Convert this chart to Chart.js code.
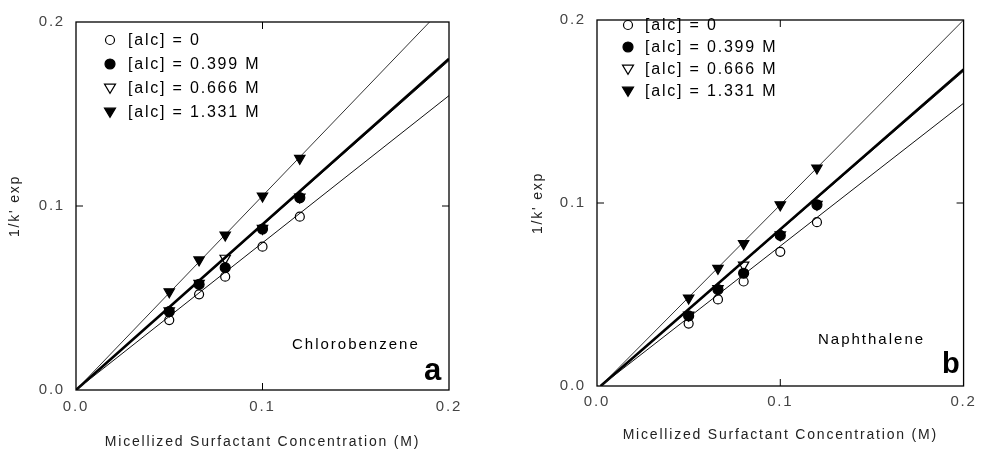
<!DOCTYPE html>
<html>
<head>
<meta charset="utf-8">
<script src="https://cdn.jsdelivr.net/npm/chart.js@4.4.1/dist/chart.umd.min.js"></script>
<style>
  html, body { margin: 0; padding: 0; background: #fff; }
  #wrap { position: relative; width: 981px; height: 452px; }
  canvas { position: absolute; top: 0; }
  #panelA { left: 0; }
  #panelB { left: 490px; }
</style>
</head>
<body>
<div id="wrap">
  <canvas id="panelA" width="490" height="452"></canvas>
  <canvas id="panelB" width="491" height="452"></canvas>
</div>
<script>
// micellized surfactant concentration (M)
const conc = [0.05, 0.066, 0.08, 0.1, 0.12]
const legendLabels = ["[alc] = 0", "[alc] = 0.399 M", "[alc] = 0.666 M", "[alc] = 1.331 M"]
const tickValues = [0, 0.1, 0.2]

// panel a - chlorobenzene, 1/k' exp
const chloroAlc0 = [0.038, 0.052, 0.0616, 0.0779, 0.0942]
const chloroAlc399 = [0.0426, 0.0574, 0.0665, 0.0875, 0.1045]
const chloroAlc666 = [0.0430, 0.0580, 0.0716, 0.0878, 0.1048]
const chloroAlc1331 = [0.0534, 0.0707, 0.0842, 0.1054, 0.1259]
// fitted lines, [start, end]
const chloroFitX = [0, 0.2]
const chloroFit0 = [0, 0.160]
const chloroFit399 = [0, 0.180]
const chloroFit666 = [0, 0.179]
const chloroFit1331 = [0, 0.211]

// panel b - naphthalene
const naphAlc0 = [0.0341, 0.0473, 0.0571, 0.0733, 0.0895]
const naphAlc399 = [0.0383, 0.0527, 0.0616, 0.0823, 0.099]
const naphAlc666 = [0.0388, 0.0532, 0.0661, 0.0826, 0.0993]
const naphAlc1331 = [0.0481, 0.0643, 0.0778, 0.099, 0.1191]
const naphFitX = [0.002, 0.2]
const naphFit0 = [0, 0.1545]
const naphFit399 = [0, 0.173]
const naphFit666 = [0, 0.172]
const naphFit1331 = [0, 0.2]

const FONT = "'Liberation Sans', Arial, Helvetica, sans-serif"
const SPACING = "1.8px"

const pts = (xs, ys) => xs.map((x, i) => ({ x, y: ys[i] }))

function markerStyle(kind) {
  const filled = kind === "filledCircle" || kind === "filledTri"
  const tri = kind === "openTri" || kind === "filledTri"
  return { filled, tri }
}

function drawMarker(ctx, kind, x, y) {
  const { filled, tri } = markerStyle(kind)
  ctx.save()
  ctx.lineWidth = 1.2
  ctx.strokeStyle = "#000"
  ctx.fillStyle = "#000"
  ctx.beginPath()
  if (tri) {
    const r = 5.5
    ctx.moveTo(x - r, y - r * 0.7)
    ctx.lineTo(x + r, y - r * 0.7)
    ctx.lineTo(x, y + r * 0.95)
    ctx.closePath()
  } else {
    ctx.arc(x, y, filled ? 5 : 4.5, 0, Math.PI * 2)
  }
  if (filled) ctx.fill()
  ctx.stroke()
  ctx.restore()
}

const kinds = ["openCircle", "filledCircle", "openTri", "filledTri"]

function scatterSet(kind, data, order) {
  const { filled, tri } = markerStyle(kind)
  return {
    data,
    order,
    showLine: false,
    pointStyle: tri ? "triangle" : "circle",
    rotation: tri ? 180 : 0,
    pointRadius: tri ? 6 : (filled ? 5 : 4.5),
    pointBorderWidth: 1.2,
    pointBorderColor: "#000",
    pointBackgroundColor: filled ? "#000" : "rgba(255,255,255,0)"
  }
}

function lineSet(data, width, color) {
  return {
    data,
    order: 10,
    showLine: true,
    pointRadius: 0,
    borderWidth: width,
    borderColor: color,
    fill: false
  }
}

const panelPlugin = {
  id: "panel",
  beforeDraw(chart) {
    chart.ctx.letterSpacing = SPACING
  },
  afterDraw(chart, args, opts) {
    const { ctx, chartArea: a, scales } = chart
    ctx.save()
    // frame
    ctx.strokeStyle = "#000"
    ctx.lineWidth = 1.3
    ctx.strokeRect(a.left, a.top, a.right - a.left, a.bottom - a.top)
    // inward ticks
    const tl = 7
    const xm = scales.x.getPixelForValue(0.1)
    const ym = scales.y.getPixelForValue(0.1)
    ctx.lineWidth = 1
    ctx.beginPath()
    ctx.moveTo(xm, a.bottom); ctx.lineTo(xm, a.bottom - tl)
    ctx.moveTo(xm, a.top); ctx.lineTo(xm, a.top + tl)
    ctx.moveTo(a.left, ym); ctx.lineTo(a.left + tl, ym)
    ctx.moveTo(a.right, ym); ctx.lineTo(a.right - tl, ym)
    ctx.stroke()

    // legend
    ctx.letterSpacing = "1.8px"
    ctx.font = "16px " + FONT
    ctx.fillStyle = "#000"
    ctx.textBaseline = "middle"
    ctx.textAlign = "left"
    legendLabels.forEach((label, i) => {
      const y = opts.legendY + i * opts.legendStep
      drawMarker(ctx, kinds[i], opts.markerX, y)
      ctx.fillText(label, opts.textX, y + 1)
    })

    // compound name
    ctx.font = "15px " + FONT
    ctx.letterSpacing = "2px"
    ctx.fillText(opts.name, opts.nameX, opts.nameY)

    // panel letter
    ctx.letterSpacing = "0px"
    ctx.font = "bold " + opts.letterSize + "px " + FONT
    ctx.textBaseline = "alphabetic"
    ctx.fillText(opts.letter, opts.letterX, opts.letterY)
    ctx.restore()
  }
}

function makePanel(id, series, fits, fitX, lay) {
  const datasets = [
    scatterSet("filledCircle", pts(conc, series[1]), 1),
    scatterSet("filledTri", pts(conc, series[3]), 2),
    scatterSet("openTri", pts(conc, series[2]), 3),
    scatterSet("openCircle", pts(conc, series[0]), 4),
    lineSet(pts(fitX, fits[0]), 1, "#111"),
    lineSet(pts(fitX, fits[1]), 2.6, "#000"),
    lineSet(pts(fitX, fits[2]), 1, "#222"),
    lineSet(pts(fitX, fits[3]), 1, "#333")
  ]
  const tickFont = { family: FONT, size: 15 }
  const titleFont = { family: FONT, size: 14 }
  return new Chart(document.getElementById(id), {
    type: "scatter",
    data: { datasets },
    plugins: [panelPlugin],
    options: {
      responsive: false,
      animation: false,
      events: [],
      layout: { padding: { left: lay.padLeft, right: lay.padRight, top: lay.padTop, bottom: 0 } },
      plugins: {
        legend: { display: false },
        tooltip: { enabled: false },
        panel: lay.panel
      },
      scales: {
        x: {
          type: "linear",
          min: 0,
          max: 0.2,
          afterBuildTicks: (s) => { s.ticks = tickValues.map(v => ({ value: v })) },
          afterFit: (s) => { s.height = lay.xHeight },
          grid: { display: false, drawTicks: false },
          border: { display: false },
          ticks: {
            padding: lay.xTickPad,
            color: "#444",
            font: tickFont,
            maxRotation: 0,
            callback: (v) => v.toFixed(1)
          },
          title: {
            display: true,
            text: "Micellized Surfactant Concentration (M)",
            color: "#222",
            font: titleFont,
            padding: { top: 0, bottom: lay.xTitlePad }
          }
        },
        y: {
          type: "linear",
          min: 0,
          max: 0.2,
          afterBuildTicks: (s) => { s.ticks = tickValues.map(v => ({ value: v })) },
          afterFit: (s) => { s.width = lay.yWidth },
          grid: { display: false, drawTicks: false },
          border: { display: false },
          ticks: {
            padding: lay.yTickPad,
            color: "#444",
            font: tickFont,
            callback: (v) => v.toFixed(1)
          },
          title: {
            display: true,
            text: "1/k' exp",
            color: "#222",
            font: titleFont,
            padding: { top: 7, bottom: 0 }
          }
        }
      }
    }
  })
}

makePanel("panelA",
  [chloroAlc0, chloroAlc399, chloroAlc666, chloroAlc1331],
  [chloroFit0, chloroFit399, chloroFit666, chloroFit1331],
  chloroFitX,
  {
    padLeft: 0, padRight: 41, padTop: 22, yWidth: 76, xHeight: 62,
    xTickPad: 8, yTickPad: 11, xTitlePad: 1.6,
    panel: {
      legendY: 40, legendStep: 24, markerX: 110, textX: 128,
      name: "Chlorobenzene", nameX: 292, nameY: 345,
      letter: "a", letterSize: 31, letterX: 424, letterY: 380
    }
  })

makePanel("panelB",
  [naphAlc0, naphAlc399, naphAlc666, naphAlc1331],
  [naphFit0, naphFit399, naphFit666, naphFit1331],
  naphFitX,
  {
    padLeft: 33, padRight: 17, padTop: 15, yWidth: 74, xHeight: 66,
    xTickPad: 7, yTickPad: 11, xTitlePad: 8.6,
    panel: {
      legendY: 25, legendStep: 22, markerX: 138, textX: 155,
      name: "Naphthalene", nameX: 328, nameY: 340,
      letter: "b", letterSize: 29, letterX: 452, letterY: 373
    }
  })
</script>
</body>
</html>
